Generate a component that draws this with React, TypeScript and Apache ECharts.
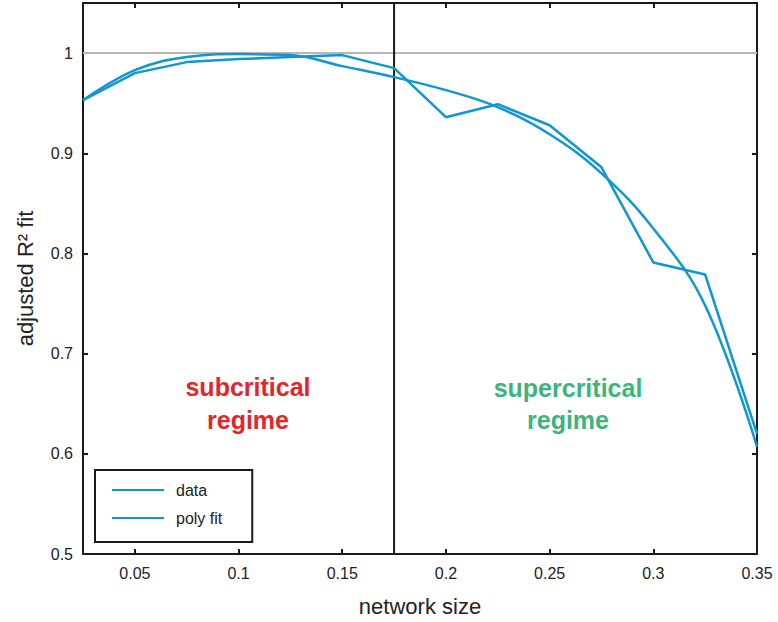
import React, { useEffect, useRef } from "react";
import * as echarts from "echarts";

const xValues = [0.025, 0.05, 0.075, 0.1, 0.125, 0.15, 0.175, 0.2, 0.225, 0.25, 0.275, 0.3, 0.325, 0.35];
const dataValues = [0.953, 0.98, 0.991, 0.994, 0.996, 0.998, 0.985, 0.936, 0.949, 0.928, 0.886, 0.791, 0.779, 0.62];
const fitValues = [0.953, 0.983, 0.996, 0.999, 0.998, 0.987, 0.976, 0.963, 0.946, 0.919, 0.88, 0.825, 0.748, 0.607];
const xTicks = [0.05, 0.1, 0.15, 0.2, 0.25, 0.3, 0.35];
const criticalSize = 0.175;
const referenceFit = 1;
const xMin = 0.025;
const xMax = 0.35;
const yMin = 0.5;
const yMax = 1.05;

const FONT = "'Liberation Sans', Arial, Helvetica, sans-serif";
const BLUE = "#0f96d3";

export default function App() {
  const ref = useRef<HTMLDivElement>(null);
  useEffect(() => {
    if (!ref.current) return;
    const chart = echarts.init(ref.current, null, { renderer: "svg" });
    const axisLine = { show: true, lineStyle: { color: "#1a1a1a", width: 2 } };
    const pair = (ys: number[]) => xValues.map((x, i) => [x, ys[i]]);
    chart.setOption({
      animation: false,
      backgroundColor: "#fff",
      grid: { left: 83, right: 21, top: 3, bottom: 66, containLabel: false },
      xAxis: [
        {
          type: "value",
          min: xMin,
          max: xMax,
          axisLine,
          axisTick: { inside: true, length: 5, lineStyle: { color: "#1a1a1a", width: 2 }, customValues: xTicks },
          axisLabel: {
            customValues: xTicks,
            formatter: (v: number) => String(Number(v.toFixed(3))),
            color: "#222",
            fontFamily: FONT,
            fontSize: 16,
            margin: 11,
          },
          splitLine: { show: false },
          name: "network size",
          nameLocation: "middle",
          nameGap: 41,
          nameTextStyle: { fontFamily: FONT, fontSize: 22, color: "#222" },
        },
        {
          type: "value",
          position: "top",
          min: xMin,
          max: xMax,
          axisLine,
          axisTick: { inside: true, length: 5, lineStyle: { color: "#1a1a1a", width: 2 }, customValues: xTicks },
          axisLabel: { show: false },
          splitLine: { show: false },
        },
      ],
      yAxis: [
        {
          type: "value",
          min: yMin,
          max: yMax,
          interval: 0.1,
          axisLine,
          axisTick: { inside: true, length: 5, lineStyle: { color: "#1a1a1a", width: 2 } },
          axisLabel: {
            showMaxLabel: false,
            formatter: (v: number) => (v > 1.001 ? "" : String(Number(v.toFixed(2)))),
            color: "#222",
            fontFamily: FONT,
            fontSize: 16,
            margin: 10,
          },
          splitLine: { show: false },
          name: "adjusted R² fit",
          nameLocation: "middle",
          nameGap: 47,
          nameTextStyle: { fontFamily: FONT, fontSize: 22, color: "#222" },
        },
        {
          type: "value",
          position: "right",
          min: yMin,
          max: yMax,
          interval: 0.1,
          axisLine,
          axisTick: { inside: true, length: 5, lineStyle: { color: "#1a1a1a", width: 2 } },
          axisLabel: { show: false },
          splitLine: { show: false },
        },
      ],
      legend: {
        orient: "vertical",
        left: 95,
        top: 470,
        data: ["data", "poly fit"],
        borderColor: "#1a1a1a",
        borderWidth: 2,
        padding: [12, 30, 16, 17],
        itemGap: 12,
        itemWidth: 52,
        itemHeight: 14,
        textStyle: { fontFamily: FONT, fontSize: 16, color: "#222", padding: [0, 0, 0, 7] },
        icon: "path://M0,6 L52,6 L52,8 L0,8 Z",
        itemStyle: { color: BLUE },
      },
      series: [
        {
          name: "reference",
          type: "line",
          data: [[xMin, referenceFit], [xMax, referenceFit]],
          symbol: "none",
          silent: true,
          lineStyle: { color: "#b8b8b8", width: 2 },
          z: 1,
        },
        {
          name: "critical",
          type: "line",
          data: [[criticalSize, yMin], [criticalSize, yMax]],
          symbol: "none",
          silent: true,
          lineStyle: { color: "#1a1a1a", width: 2 },
          z: 1,
        },
        {
          name: "data",
          type: "line",
          data: pair(dataValues),
          symbol: "none",
          lineStyle: { color: BLUE, width: 2.5 },
          itemStyle: { color: BLUE },
          z: 3,
        },
        {
          name: "poly fit",
          type: "line",
          data: pair(fitValues),
          symbol: "none",
          smooth: 0.4,
          lineStyle: { color: BLUE, width: 2.5 },
          itemStyle: { color: BLUE },
          z: 3,
        },
      ],
      graphic: [
        {
          type: "text",
          x: 248,
          y: 370,
          style: {
            text: "subcritical\nregime",
            fill: "#e3262b",
            font: `bold 25px ${FONT}`,
            align: "center",
            verticalAlign: "top",
            lineHeight: 33,
          },
        },
        {
          type: "text",
          x: 568,
          y: 372,
          style: {
            text: "supercritical\nregime",
            fill: "#3db47c",
            font: `bold 25px ${FONT}`,
            align: "center",
            verticalAlign: "top",
            lineHeight: 32,
          },
        },
      ],
    });
    return () => chart.dispose();
  }, []);
  return <div ref={ref} style={{ position: "absolute", left: 0, top: 0, width: 778, height: 622 }} />;
}
